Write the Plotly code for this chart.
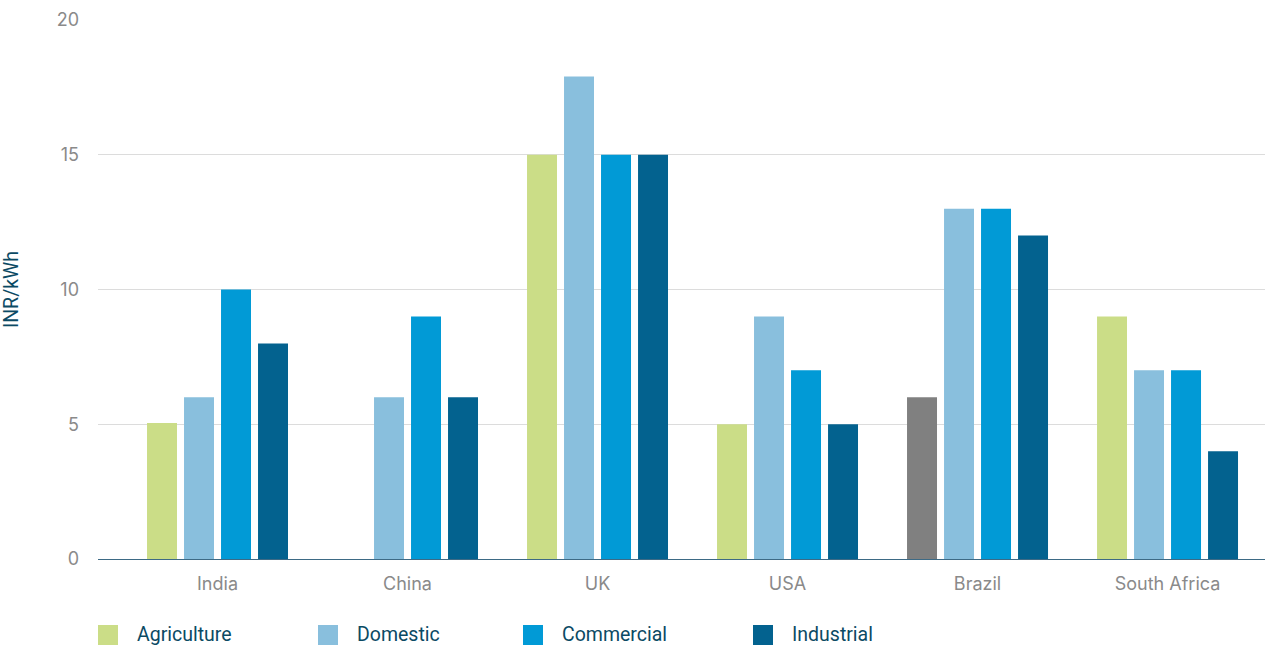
import plotly.graph_objects as go

categories = ["India", "China", "UK", "USA", "Brazil", "South Africa"]
series_names = ["Agriculture", "Domestic", "Commercial", "Industrial"]
agriculture = [5.05, None, 15, 5, 6, 9]
domestic = [6, 6, 17.9, 9, 13, 7]
commercial = [10, 9, 15, 7, 13, 7]
industrial = [8, 6, 15, 5, 12, 4]
y_ticks = [0, 5, 10, 15, 20]

colors = ["#cbdd87", "#89bfdd", "#019ad6", "#03628f"]
agri_colors = ["#808080" if c == "Brazil" else colors[0] for c in categories]

W, H = 1265, 646
L, R, T, B = 98, 0, 20, 87
pw, ph = W - L - R, H - T - B

fig = go.Figure()
values = [agriculture, domestic, commercial, industrial]
for i, (name, vals) in enumerate(zip(series_names, values)):
    fig.add_trace(go.Bar(
        x=categories, y=vals, name=name,
        marker=dict(color=agri_colors if i == 0 else colors[i], line=dict(width=0)),
        showlegend=False,
        hovertemplate="%{x}<br>" + name + ": %{y}<extra></extra>",
    ))

# custom legend (larger swatches)
legend_x = [98, 318, 523, 753]
ly = 635
def px2x(px):
    return (px - L) / pw
def py2y(py):
    return (H - B - py) / ph
shapes = []
annotations = []
for name, c, lx in zip(series_names, colors, legend_x):
    shapes.append(dict(type="rect", xref="paper", yref="paper",
                       x0=px2x(lx), x1=px2x(lx + 20), y0=py2y(ly + 10), y1=py2y(ly - 10),
                       fillcolor=c, line=dict(width=0)))
    annotations.append(dict(xref="paper", yref="paper", x=px2x(lx + 37), y=py2y(ly - 1),
                            text=name, showarrow=False, xanchor="left", yanchor="middle",
                            font=dict(family="Roboto, Arial, sans-serif", size=19.5, color="#0b4a64")))

tick_font = dict(family="Inter, Arial, sans-serif", size=18, color="#8a8a8a")

fig.update_layout(
    width=W, height=H,
    margin=dict(l=L, r=R, t=T, b=B, pad=0),
    paper_bgcolor="white", plot_bgcolor="white",
    barmode="group", bargap=0.221, bargroupgap=0.19,
    shapes=shapes, annotations=annotations,
    showlegend=False,
    xaxis=dict(
        type="category", range=[-0.629, 5.513],
        showgrid=False, showline=True, linecolor="#3d6a85", linewidth=1,
        ticks="", tickfont=tick_font,
        ticklabelstandoff=8,
    ),
    yaxis=dict(
        range=[0, 20], tickvals=y_ticks,
        showgrid=True, gridcolor="#dcdcdc", gridwidth=1,
        zeroline=False, showline=False, ticks="",
        tickfont=tick_font,
        ticklabelstandoff=18,
        title=dict(text="INR/kWh", standoff=33,
                   font=dict(family="Roboto, Arial, sans-serif", size=19.5, color="#0b4a64")),
    ),
)

fig.write_html("out.html")
